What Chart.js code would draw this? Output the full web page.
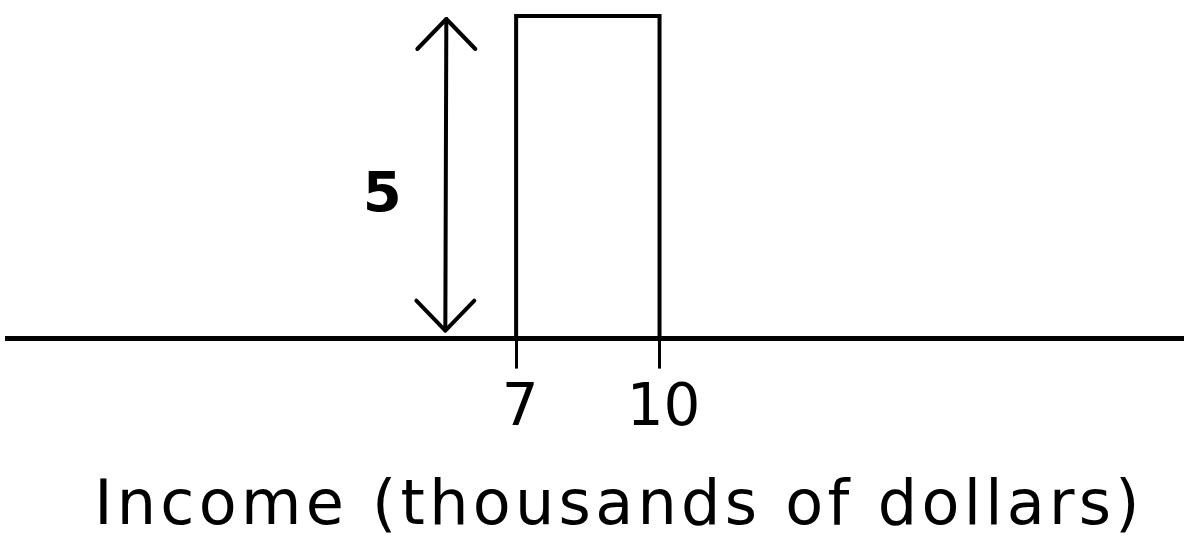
<!DOCTYPE html>
<html>
<head>
<meta charset="utf-8">
<script src="https://cdn.jsdelivr.net/npm/chart.js@4.4.1/dist/chart.umd.min.js"></script>
<style>
  html, body { margin: 0; padding: 0; background: #fff; }
  #wrap { width: 1192px; height: 536px; position: relative; }
</style>
</head>
<body>
<div id="wrap"><canvas id="c" width="1192" height="536"></canvas></div>
<script>
// ---- data ----
const binEdges = [7, 10];          // income interval (thousands of dollars)
const binHeight = [5];             // height of the bar
const tickValues = [7, 10];        // labelled ticks on the x axis
const xRange = [-3.65, 20.95];     // visible income range
const heightLabel = ['5'];         // annotation text for the bar height
const arrowAt = [5.54];            // income value where the height arrow is drawn
const labelAt = [4.2];             // income value where the height label sits
const xTitle = 'Income (thousands of dollars)';

const FONT = "'DejaVu Sans', sans-serif";

const barPoints = [
  {x: binEdges[0], y: 0},
  {x: binEdges[0], y: binHeight[0]},
  {x: binEdges[1], y: binHeight[0]},
  {x: binEdges[1], y: 0}
];

// give the axis title a hand-lettered wide spacing and nudge it right like the original
const titleStylePlugin = {
  id: 'titleStyle',
  afterLayout(chart) {
    const sc = chart.scales.x;
    if (sc._patchedTitle) return;
    const orig = sc.drawTitle;
    sc.drawTitle = function () {
      const ctx = this.ctx;
      ctx.save();
      ctx.letterSpacing = '4.3px';
      ctx.translate(24, 0);
      orig.apply(this, arguments);
      ctx.restore();
    };
    sc._patchedTitle = true;
  }
};

const arrowPlugin = {
  id: 'heightArrow',
  afterDatasetsDraw(chart) {
    const ctx = chart.ctx;
    const xs = chart.scales.x, ys = chart.scales.y;
    const px = xs.getPixelForValue(arrowAt[0]);
    const yTop = ys.getPixelForValue(binHeight[0]) + 3;
    const yBot = ys.getPixelForValue(0) - 8;
    ctx.save();
    ctx.strokeStyle = '#000';
    ctx.lineWidth = 4;
    ctx.lineCap = 'round';
    ctx.lineJoin = 'round';
    ctx.beginPath();
    ctx.moveTo(px, yTop);
    ctx.lineTo(px - 1, yBot);
    ctx.stroke();
    const hw = 29, hh = 30;
    ctx.beginPath();
    ctx.moveTo(px - hw, yTop + hh);
    ctx.lineTo(px, yTop);
    ctx.lineTo(px + hw, yTop + hh);
    ctx.stroke();
    ctx.beginPath();
    ctx.moveTo(px - 1 - hw, yBot - hh);
    ctx.lineTo(px - 1, yBot);
    ctx.lineTo(px - 1 + hw, yBot - hh);
    ctx.stroke();
    ctx.fillStyle = '#000';
    ctx.font = "bold 56px " + FONT;
    ctx.textAlign = 'center';
    ctx.textBaseline = 'middle';
    const lx = xs.getPixelForValue(labelAt[0]);
    const ly = ys.getPixelForValue(binHeight[0] * 0.44);
    ctx.fillText(heightLabel[0], lx, ly);
    ctx.restore();
  }
};

new Chart(document.getElementById('c'), {
  type: 'scatter',
  data: {
    datasets: [{
      data: barPoints,
      showLine: true,
      borderColor: '#000',
      borderWidth: 4,
      pointRadius: 0,
      fill: false,
      tension: 0,
      clip: false
    }]
  },
  options: {
    responsive: false,
    animation: false,
    events: [],
    layout: { padding: { left: 7, right: 9, top: 16, bottom: 0 } },
    plugins: { legend: { display: false }, tooltip: { enabled: false } },
    scales: {
      x: {
        type: 'linear',
        min: xRange[0],
        max: xRange[1],
        afterBuildTicks(axis) { axis.ticks = tickValues.map(v => ({value: v})); },
        grid: {
          drawOnChartArea: false,
          drawTicks: true,
          tickLength: 30,
          tickWidth: 3,
          tickColor: '#000'
        },
        border: { display: true, color: '#000', width: 5 },
        ticks: {
          color: '#000',
          padding: 7,
          labelOffset: 4,
          maxRotation: 0,
          autoSkip: false,
          font: { family: FONT, size: 58 },
          callback: v => String(v)
        },
        title: {
          display: true,
          text: xTitle,
          color: '#000',
          font: { family: FONT, size: 62, lineHeight: 0.9 },
          padding: { top: 28, bottom: 0 }
        }
      },
      y: {
        display: false,
        min: 0,
        max: binHeight[0]
      }
    }
  },
  plugins: [titleStylePlugin, arrowPlugin]
});
</script>
</body>
</html>
